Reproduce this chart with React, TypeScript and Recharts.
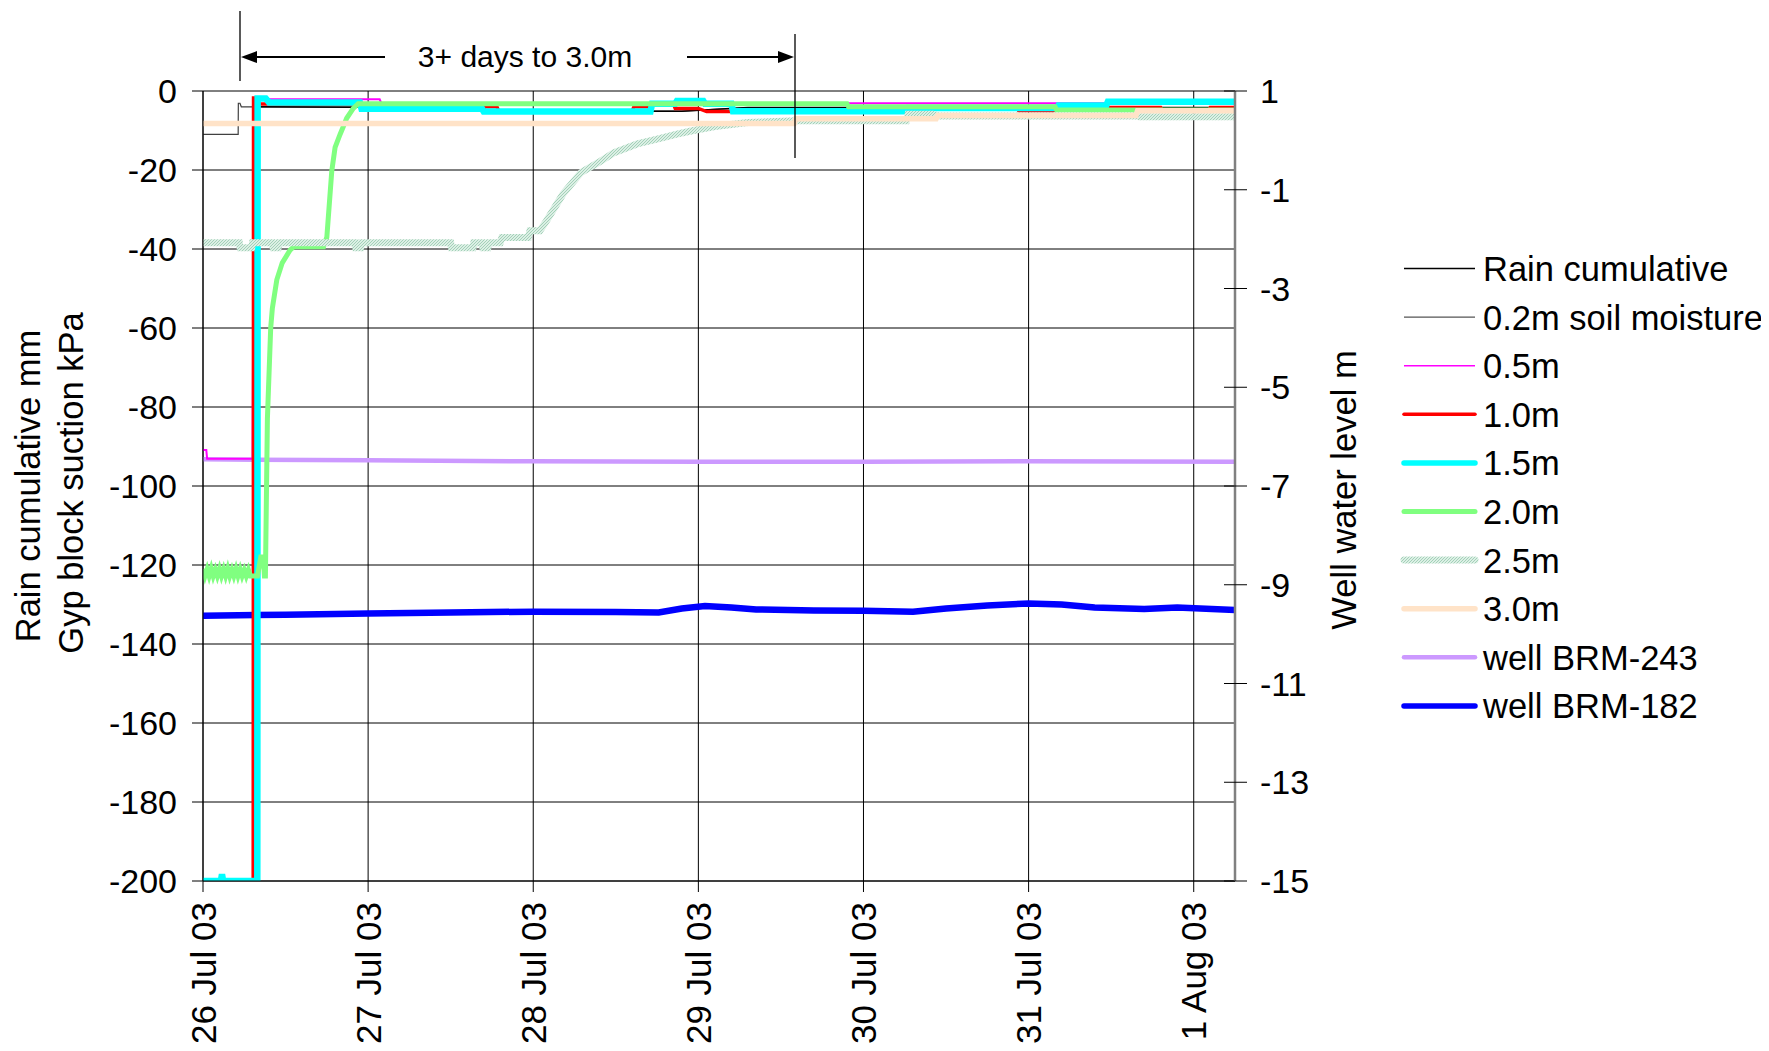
import React from "react";
import { LineChart, Line, XAxis, YAxis, CartesianGrid } from "recharts";

// ============================================================================
// Gyp block suction / well level chart, 26 Jul - 1 Aug 03
// x values are days since 26 Jul 03 00:00
// ============================================================================

const FONT = '"Liberation Sans", Arial, Helvetica, sans-serif';

const dayTicks = [0, 1, 2, 3, 4, 5, 6];
const dayLabels = ["26 Jul 03", "27 Jul 03", "28 Jul 03", "29 Jul 03", "30 Jul 03", "31 Jul 03", "1 Aug 03"];
const quarterTicks = [0.25, 0.5, 0.75, 1.25, 1.5, 1.75, 2.25, 2.5, 2.75, 3.25, 3.5, 3.75, 4.25, 4.5, 4.75, 5.25, 5.5, 5.75, 6.25];
const kpaTicks = [-200, -180, -160, -140, -120, -100, -80, -60, -40, -20, 0];
const wellTicks = [1, -1, -3, -5, -7, -9, -11, -13, -15];

// [day, kPa]
const rainCumulative = [
  [0.30, -4.0], [0.95, -4.1], [1.10, -5.1], [2.90, -5.1], [3.30, -4.2], [6.25, -4.2],
];
const soil02 = [
  [0, -11.0], [0.213, -11.0], [0.214, -3.1], [0.224, -3.1], [0.232, -4.0], [0.30, -4.0],
  [0.95, -4.1], [1.10, -5.1], [2.90, -5.1], [3.30, -4.2], [6.25, -4.2],
];
const gyp05 = [
  [0, -90.9], [0.02, -90.9], [0.025, -93.1], [0.30, -93.1], [0.31, -2.1], [1.07, -2.1],
  [1.08, -3.1], [5.45, -3.1], [6.25, -3.0],
];
const gyp10 = [
  [0, -200], [0.304, -200], [0.306, -1.8], [0.33, -1.8], [0.34, -3.3], [0.95, -3.3],
  [0.96, -4.4], [1.70, -4.4], [1.71, -4.0], [1.78, -4.0], [1.79, -5.0], [2.60, -5.0],
  [2.61, -4.0], [2.69, -4.0], [2.70, -3.3], [2.85, -3.3], [2.86, -4.4], [3.00, -4.4],
  [3.05, -5.2], [3.20, -5.2], [3.21, -4.9], [4.26, -4.9], [4.27, -4.3], [4.93, -4.3],
  [4.94, -5.0], [5.15, -5.0], [5.16, -4.3], [5.47, -4.3], [5.48, -4.2], [5.80, -4.2],
  [5.81, -4.8], [6.09, -4.8], [6.10, -4.2], [6.25, -4.2],
];
const gyp15 = [
  [0, -200], [0.108, -200], [0.115, -198.3], [0.122, -200], [0.329, -200], [0.331, -1.9],
  [0.38, -1.9], [0.40, -2.9], [0.95, -2.9], [0.96, -4.5], [1.69, -4.5], [1.70, -5.2],
  [2.71, -5.2], [2.72, -3.2], [2.86, -3.2], [2.87, -2.5], [3.03, -2.5], [3.04, -3.2],
  [3.20, -3.2], [3.21, -5.1], [4.26, -5.1], [4.27, -4.3], [5.17, -4.3], [5.18, -3.7],
  [5.47, -3.7], [5.48, -2.7], [6.25, -2.7],
];
// noisy readings around -122 before the wetting front
const gyp20 = [
  [0, -121.0], [0.012, -122.8], [0.025, -121.1], [0.037, -122.8], [0.05, -120.9],
  [0.062, -122.8], [0.075, -121.2], [0.087, -122.8], [0.10, -121.0], [0.112, -122.8],
  [0.125, -121.1], [0.137, -122.8], [0.15, -120.9], [0.162, -122.8], [0.175, -121.2],
  [0.187, -122.8], [0.20, -121.0], [0.212, -122.8], [0.225, -121.1], [0.237, -122.8],
  [0.25, -121.3], [0.262, -122.8], [0.275, -121.2], [0.287, -122.8], [0.33, -122.8],
  [0.35, -118.0], [0.365, -118.0], [0.372, -122.8], [0.378, -122.8], [0.39, -83],
  [0.41, -60], [0.42, -55], [0.447, -47.8], [0.48, -43.5], [0.527, -40.3], [0.55, -39.4],
  [0.73, -39.4], [0.75, -37.0], [0.78, -20.2], [0.80, -14.3], [0.83, -11.0], [0.85, -9.0],
  [0.87, -6.9], [0.91, -4.4], [0.94, -3.2], [3.90, -3.2], [3.91, -4.0], [5.16, -4.0],
  [5.17, -4.8], [6.25, -4.8],
];
const gyp25 = [
  [0, -38.4], [0.22, -38.4], [0.225, -39.7], [0.295, -39.7], [0.30, -38.4], [0.42, -38.4],
  [0.425, -39.7], [0.455, -39.7], [0.46, -38.4], [0.92, -38.4], [0.925, -39.7], [0.955, -39.7],
  [0.96, -38.4], [1.50, -38.4], [1.505, -39.7], [1.635, -39.7], [1.64, -38.4], [1.69, -38.4],
  [1.695, -39.7], [1.725, -39.7], [1.73, -38.4], [1.80, -38.4], [1.81, -37.1], [1.97, -37.1],
  [1.98, -35.4], [2.04, -35.4], [2.08, -32.9], [2.18, -26.1], [2.29, -20.6], [2.41, -17.7],
  [2.49, -15.6], [2.63, -13.4], [2.75, -12.2], [2.87, -10.9], [2.97, -10.0], [3.10, -9.0],
  [3.30, -8.0], [3.60, -7.5], [4.26, -7.5], [4.27, -5.9], [4.42, -5.9], [4.45, -6.3],
  [5.66, -6.3], [5.67, -6.5], [6.25, -6.5],
];
const gyp30 = [
  [0, -8.2], [3.58, -8.2], [3.59, -7.0], [4.44, -7.0], [4.45, -6.2], [5.65, -6.2],
  [5.66, -5.0], [6.25, -5.0],
];

// [day, m]
const wellBrm243 = [
  [0, -6.46], [1, -6.48], [2, -6.50], [3, -6.51], [4, -6.51], [5, -6.50], [6.25, -6.51],
];
const wellBrm182 = [
  [0, -9.626], [0.5, -9.606], [1, -9.58], [1.5, -9.56], [2, -9.545], [2.5, -9.55],
  [2.76, -9.56], [2.9, -9.48], [3.04, -9.43], [3.2, -9.46], [3.35, -9.50], [3.7, -9.52],
  [4.0, -9.525], [4.3, -9.545], [4.5, -9.48], [4.75, -9.42], [5.0, -9.38], [5.2, -9.40],
  [5.4, -9.46], [5.7, -9.49], [5.9, -9.46], [6.25, -9.51],
];

const toPoints = (pairs: number[][]) => pairs.map(([d, v]) => ({ d, v }));

// z-order: wells under, then the gyp blocks in legend order
const SERIES = [
  { name: "well BRM-243", data: wellBrm243, color: "#CC99FF", width: 4.5, axis: "well" },
  { name: "well BRM-182", data: wellBrm182, color: "#0000FF", width: 6.5, axis: "well" },
  { name: "0.2m soil moisture", data: soil02, color: "#404040", width: 1.2, axis: "kpa" },
  { name: "Rain cumulative", data: rainCumulative, color: "#000000", width: 1.5, axis: "kpa" },
  { name: "0.5m", data: gyp05, color: "#FF00FF", width: 2, axis: "kpa" },
  { name: "1.0m", data: gyp10, color: "#FF0000", width: 3.5, axis: "kpa" },
  { name: "1.5m", data: gyp15, color: "#00FFFF", width: 6.5, axis: "kpa" },
  { name: "2.0m", data: gyp20, color: "#80FF80", width: 5, axis: "kpa" },
  { name: "2.5m", data: gyp25, color: "url(#hatch25)", width: 7, axis: "kpa" },
  { name: "3.0m", data: gyp30, color: "#FFE3C8", width: 5.5, axis: "kpa" },
];

const LEGEND = [
  { name: "Rain cumulative", color: "#000000", width: 1.5 },
  { name: "0.2m soil moisture", color: "#555555", width: 1.2 },
  { name: "0.5m", color: "#FF00FF", width: 1.5 },
  { name: "1.0m", color: "#FF0000", width: 3.5 },
  { name: "1.5m", color: "#00FFFF", width: 5.5 },
  { name: "2.0m", color: "#80FF80", width: 5 },
  { name: "2.5m", color: "url(#hatch25legend)", width: 7 },
  { name: "3.0m", color: "#FFE3C8", width: 5.5 },
  { name: "well BRM-243", color: "#CC99FF", width: 4.5 },
  { name: "well BRM-182", color: "#0000FF", width: 5.5 },
];

const HatchPattern = ({ id }: { id: string }) => (
  <pattern id={id} patternUnits="userSpaceOnUse" width="3" height="3">
    <rect width="3" height="3" fill="#dcefe5" />
    <path d="M0,3 L3,0" stroke="#a3d1b8" strokeWidth="1" />
  </pattern>
);

// -----------------------------------------------------------------------------
// ticks
// -----------------------------------------------------------------------------
const DayTick = ({ x, y, payload }: any) => (
  <g transform={`translate(${x},${y}) rotate(-90)`}>
    <text x={0} y={0} dy="0.36em" textAnchor="end" fontSize={35} fontFamily={FONT} fill="#000">
      {dayLabels[dayTicks.indexOf(payload.value)]}
    </text>
  </g>
);

// right axis ticks cross the axis line
const WellTick = ({ x, y, payload }: any) => (
  <g>
    <line x1={x - 25 - 11} x2={x - 25} y1={y} y2={y} stroke="#000" strokeWidth={1} />
    <text x={x} y={y} dy="0.355em" textAnchor="start" fontSize={34} fontFamily={FONT} fill="#000">
      {payload.value}
    </text>
  </g>
);

// -----------------------------------------------------------------------------
// legend (right of chart)
// -----------------------------------------------------------------------------
const SideLegend = () => (
  <svg
    width={380}
    height={520}
    style={{ position: "absolute", left: 1390, top: 230, overflow: "visible" }}
  >
    <defs>
      <HatchPattern id="hatch25legend" />
    </defs>
    {LEGEND.map((item, i) => {
      const cy = 30.5 + 48.6 * i;
      return (
        <g key={item.name}>
          <line
            x1={6}
            x2={77}
            y1={cy}
            y2={cy}
            stroke={item.color}
            strokeWidth={item.width}
            strokeLinecap={item.width > 3 ? "round" : "butt"}
          />
          <text x={85} y={cy} dy="0.36em" fontSize={34.5} fontFamily={FONT} fill="#000">
            {item.name}
          </text>
        </g>
      );
    })}
  </svg>
);

// -----------------------------------------------------------------------------
// annotation + axis titles
// -----------------------------------------------------------------------------
const Overlay = () => (
  <svg
    width={1753}
    height={1035}
    style={{ position: "absolute", left: 0, top: 0, pointerEvents: "none" }}
  >
    <line x1={232} x2={232} y1={3} y2={73} stroke="#000" strokeWidth={1.3} />
    <line x1={787} x2={787} y1={26} y2={150} stroke="#000" strokeWidth={1.3} />
    <line x1={246} x2={377} y1={49} y2={49} stroke="#000" strokeWidth={2} />
    <polygon points="233,49 249,43 249,55" fill="#000" />
    <line x1={679} x2={773} y1={49} y2={49} stroke="#000" strokeWidth={2} />
    <polygon points="786,49 770,43 770,55" fill="#000" />
    <text x={517} y={59} textAnchor="middle" fontSize={30} fontFamily={FONT} fill="#000">
      3+ days to 3.0m
    </text>

    <text
      transform="translate(20,478) rotate(-90)"
      textAnchor="middle"
      dy="0.36em"
      fontSize={34.5}
      fontFamily={FONT}
      fill="#000"
    >
      Rain cumulative mm
    </text>
    <text
      transform="translate(63,475) rotate(-90)"
      textAnchor="middle"
      dy="0.36em"
      fontSize={34.5}
      fontFamily={FONT}
      fill="#000"
    >
      Gyp block suction kPa
    </text>
    <text
      transform="translate(1336,482) rotate(-90)"
      textAnchor="middle"
      dy="0.36em"
      fontSize={34.5}
      fontFamily={FONT}
      fill="#000"
    >
      Well water level m
    </text>
  </svg>
);

// ============================================================================
// APP
// ============================================================================
export default function App() {
  return (
    <div style={{ position: "relative", width: 1753, height: 1035, fontFamily: FONT }}>
      <LineChart width={1753} height={1035} margin={{ top: 83, right: 406, bottom: 0, left: 0 }}>
        <defs>
          <HatchPattern id="hatch25" />
        </defs>
        <CartesianGrid xAxisId="days" yAxisId="kpa" stroke="#000" strokeWidth={1} />
        <XAxis
          xAxisId="days"
          dataKey="d"
          type="number"
          domain={[0, 6.25]}
          ticks={dayTicks}
          interval={0}
          height={162}
          tickSize={11}
          tickMargin={10}
          tick={<DayTick />}
          stroke="#000"
          allowDataOverflow
        />
        <XAxis
          xAxisId="minor"
          dataKey="d"
          type="number"
          domain={[0, 6.25]}
          ticks={quarterTicks}
          interval={0}
          mirror
          height={10}
          tickSize={9}
          tick={false}
          axisLine={false}
          stroke="#000"
        />
        <YAxis
          yAxisId="kpa"
          type="number"
          domain={[-200, 0]}
          ticks={kpaTicks}
          interval={0}
          width={195}
          tickSize={11}
          tickMargin={15}
          stroke="#000"
          tick={{ fontSize: 34, fontFamily: FONT, fill: "#000" }}
          allowDataOverflow
        />
        <YAxis
          yAxisId="well"
          orientation="right"
          type="number"
          domain={[-15, 1]}
          ticks={wellTicks}
          interval={0}
          width={120}
          tickSize={12}
          tickMargin={13}
          axisLine={{ stroke: "#808080", strokeWidth: 2.5 }}
          tickLine={{ stroke: "#000", strokeWidth: 1 }}
          tick={<WellTick />}
        />
        {SERIES.map((s) => (
          <Line
            key={s.name}
            name={s.name}
            data={toPoints(s.data)}
            dataKey="v"
            xAxisId="days"
            yAxisId={s.axis}
            type="linear"
            stroke={s.color}
            strokeWidth={s.width}
            dot={false}
            activeDot={false}
            isAnimationActive={false}
          />
        ))}
      </LineChart>
      <Overlay />
      <SideLegend />
    </div>
  );
}
